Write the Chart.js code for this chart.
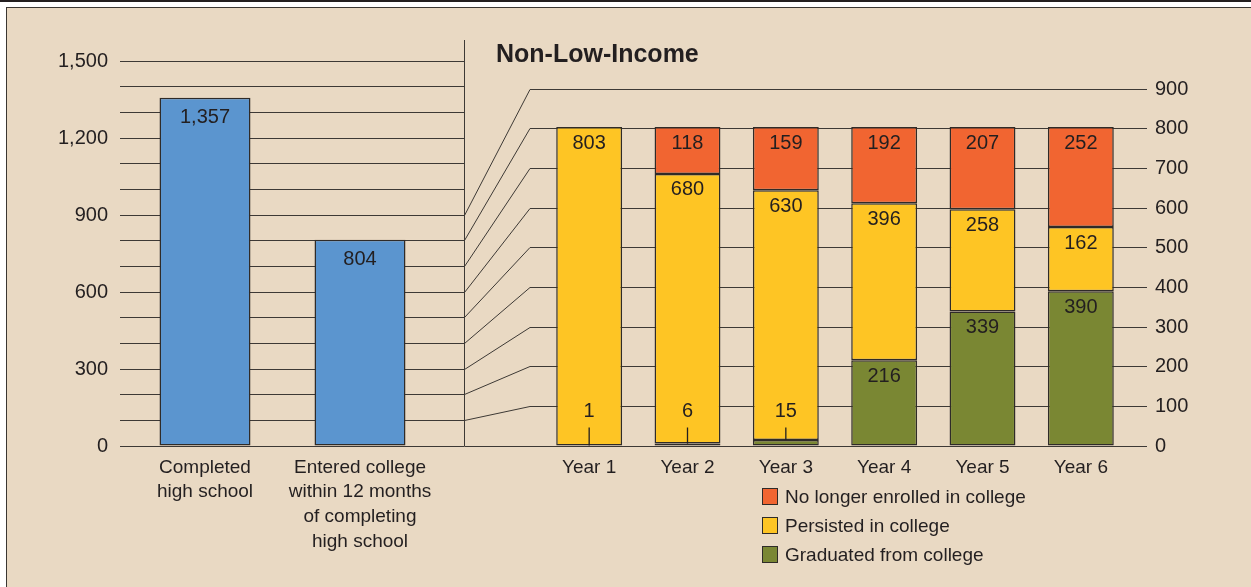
<!DOCTYPE html>
<html>
<head>
<meta charset="utf-8">
<script src="https://cdn.jsdelivr.net/npm/chart.js@4/dist/chart.umd.min.js"></script>
<style>
  html, body { margin: 0; padding: 0; background: #fff; }
  #wrap { position: relative; width: 1251px; height: 587px; overflow: hidden; background: #fff; }
  #topline { position: absolute; left: 0; top: 0; width: 1251px; height: 2px; background: #231F20; }
  #panel { position: absolute; left: 6px; top: 7px; width: 1260px; height: 600px; background: #E9D9C3;
           border-left: 1px solid #3a3632; border-top: 1px solid #3a3632; }
  canvas { position: absolute; left: 0; top: 0; }
  #title { position: absolute; left: 496px; top: 39px; font: bold 25px "Liberation Sans", Arial, sans-serif; color: #231F20; }
  #legend { position: absolute; left: 762px; top: 484px; font-family: "Liberation Sans", Arial, sans-serif;
            font-size: 19px; color: #231F20; }
  #legend div { height: 29px; line-height: 26px; white-space: nowrap; }
  #legend span { display: inline-block; width: 14px; height: 15px; border: 1px solid #2f2b28; margin-right: 7px; vertical-align: -2px; }
</style>
</head>
<body>
<div id="wrap">
  <div id="topline"></div>
  <div id="panel"></div>
  <canvas id="left" width="1251" height="587"></canvas>
  <canvas id="right" width="1251" height="587"></canvas>
  <div id="title">Non-Low-Income</div>
  <div id="legend"></div>
</div>
<script>
// left panel: all students
const leftLabels = [['Completed', 'high school'], ['Entered college', 'within 12 months', 'of completing', 'high school']];
const leftValues = [1357, 804];

// right panel: college entrants by year
const years = ['Year 1', 'Year 2', 'Year 3', 'Year 4', 'Year 5', 'Year 6'];
const graduated = [1, 6, 15, 216, 339, 390];
const persisted = [803, 680, 630, 396, 258, 162];
const noLonger  = [0, 118, 159, 192, 207, 252];

const FONT = '"Liberation Sans", Arial, sans-serif';
const TEXT = '#231F20';
const GRID = '#3d3935';
const EDGE = '#2f2b28';
const COLORS = { blue: '#5B95CF', orange: '#F16531', yellow: '#FEC524', green: '#7A8733' };

// x where the left grid stops and the right grid starts
const JOIN_LEFT = 464.5, JOIN_RIGHT = 530;

Chart.defaults.font.family = FONT;
Chart.defaults.font.size = 20;
Chart.defaults.color = TEXT;

const fmt = v => v.toLocaleString('en-US');
// same pixel snapping Chart.js uses for 1px grid lines
const snap = p => Math.round(p - 0.5) + 0.5;

const valueLabels = {
  id: 'valueLabels',
  afterDatasetsDraw(chart, args, opts) {
    const ctx = chart.ctx;
    ctx.save();
    ctx.font = `20px ${FONT}`;
    ctx.fillStyle = TEXT;
    ctx.strokeStyle = TEXT;
    ctx.lineWidth = 1.3;
    ctx.textAlign = 'center';
    ctx.textBaseline = 'middle';
    chart.data.datasets.forEach((ds, i) => {
      chart.getDatasetMeta(i).data.forEach((bar, j) => {
        const v = ds.data[j];
        if (!v) return;
        const { x, y, base } = bar.getProps(['x', 'y', 'base'], true);
        const top = Math.min(y, base), bottom = Math.max(y, base);
        if (bottom - top < 30) {
          ctx.fillText(fmt(v), x, bottom - 34);
          ctx.beginPath();
          ctx.moveTo(x, bottom - 18);
          ctx.lineTo(x, top);
          ctx.stroke();
        } else {
          ctx.fillText(fmt(v), x, top + opts.offset);
        }
      });
    });
    ctx.restore();
  }
};

const leftDecor = {
  id: 'leftDecor',
  beforeDatasetsDraw(chart) {
    const ctx = chart.ctx, area = chart.chartArea, ys = chart.scales.y;
    ctx.save();
    ctx.strokeStyle = GRID;
    ctx.lineWidth = 1;
    ctx.beginPath();
    ys.ticks.forEach(t => {
      const py = snap(ys.getPixelForValue(t.value));
      ctx.moveTo(area.right - 1, py);
      ctx.lineTo(JOIN_LEFT, py);
    });
    ctx.moveTo(JOIN_LEFT, 40);
    ctx.lineTo(JOIN_LEFT, area.bottom);
    ctx.stroke();
    ctx.restore();
  }
};

const leftChart = new Chart(document.getElementById('left'), {
  type: 'bar',
  data: {
    labels: leftLabels,
    datasets: [{
      data: leftValues,
      backgroundColor: COLORS.blue,
      borderColor: EDGE,
      borderWidth: 1.5,
      borderSkipped: false,
      categoryPercentage: 1,
      barPercentage: 0.587
    }]
  },
  options: {
    responsive: false,
    animation: false,
    layout: { padding: { left: 0, top: 61, right: 1251 - 437.5, bottom: 0 } },
    plugins: { legend: { display: false }, tooltip: { enabled: false }, valueLabels: { offset: 20 } },
    scales: {
      x: {
        grid: { display: false },
        border: { display: false },
        ticks: { padding: 1, maxRotation: 0, minRotation: 0, autoSkip: false, font: { size: 19, lineHeight: 1.3 } },
        afterFit(s) { s.height = 141; }
      },
      y: {
        min: 0, max: 1500,
        grid: { color: GRID, lineWidth: 1, tickLength: 7.5 },
        border: { display: false },
        ticks: { stepSize: 100, maxTicksLimit: 20, autoSkip: false, padding: 12,
                 callback: v => (v % 300 === 0 ? fmt(v) : '') },
        afterFit(s) { s.width = 127.5; }
      }
    }
  },
  plugins: [leftDecor, valueLabels]
});

const connectors = {
  id: 'connectors',
  beforeDatasetsDraw(chart) {
    const ctx = chart.ctx, area = chart.chartArea;
    const yR = chart.scales.y, yL = leftChart.scales.y;
    ctx.save();
    ctx.strokeStyle = GRID;
    ctx.lineWidth = 1;
    ctx.beginPath();
    yR.ticks.forEach(t => {
      const pr = snap(yR.getPixelForValue(t.value));
      const pl = snap(yL.getPixelForValue(t.value));
      ctx.moveTo(JOIN_LEFT, pl);
      ctx.lineTo(JOIN_RIGHT, pr);
      ctx.lineTo(area.left + 1, pr);
    });
    ctx.stroke();
    ctx.restore();
  }
};

const segment = (label, data, color) => ({
  label, data,
  backgroundColor: color,
  borderColor: EDGE,
  borderWidth: 1.5,
  borderSkipped: false,
  categoryPercentage: 1,
  barPercentage: 0.67
});

new Chart(document.getElementById('right'), {
  type: 'bar',
  data: {
    labels: years,
    datasets: [
      segment('Graduated from college', graduated, COLORS.green),
      segment('Persisted in college', persisted, COLORS.yellow),
      segment('No longer enrolled in college', noLonger, COLORS.orange)
    ]
  },
  options: {
    responsive: false,
    animation: false,
    layout: { padding: { left: 540, top: 89, right: 0, bottom: 0 } },
    plugins: { legend: { display: false }, tooltip: { enabled: false }, valueLabels: { offset: 16 } },
    scales: {
      x: {
        stacked: true,
        grid: { display: false },
        border: { display: false },
        ticks: { padding: 2, maxRotation: 0, autoSkip: false, font: { size: 19 } },
        afterFit(s) { s.height = 141; }
      },
      y: {
        stacked: true,
        position: 'right',
        min: 0, max: 900,
        grid: { color: GRID, lineWidth: 1, tickLength: 17 },
        border: { display: false },
        ticks: { stepSize: 100, maxTicksLimit: 20, padding: 8 },
        afterFit(s) { s.width = 121; }
      }
    }
  },
  plugins: [connectors, valueLabels]
});

// legend, top row = top of the stack
const legendEl = document.getElementById('legend');
[['No longer enrolled in college', COLORS.orange], ['Persisted in college', COLORS.yellow], ['Graduated from college', COLORS.green]]
  .forEach(([name, color]) => {
    const row = document.createElement('div');
    row.innerHTML = `<span style="background:${color}"></span>${name}`;
    legendEl.appendChild(row);
  });
</script>
</body>
</html>
